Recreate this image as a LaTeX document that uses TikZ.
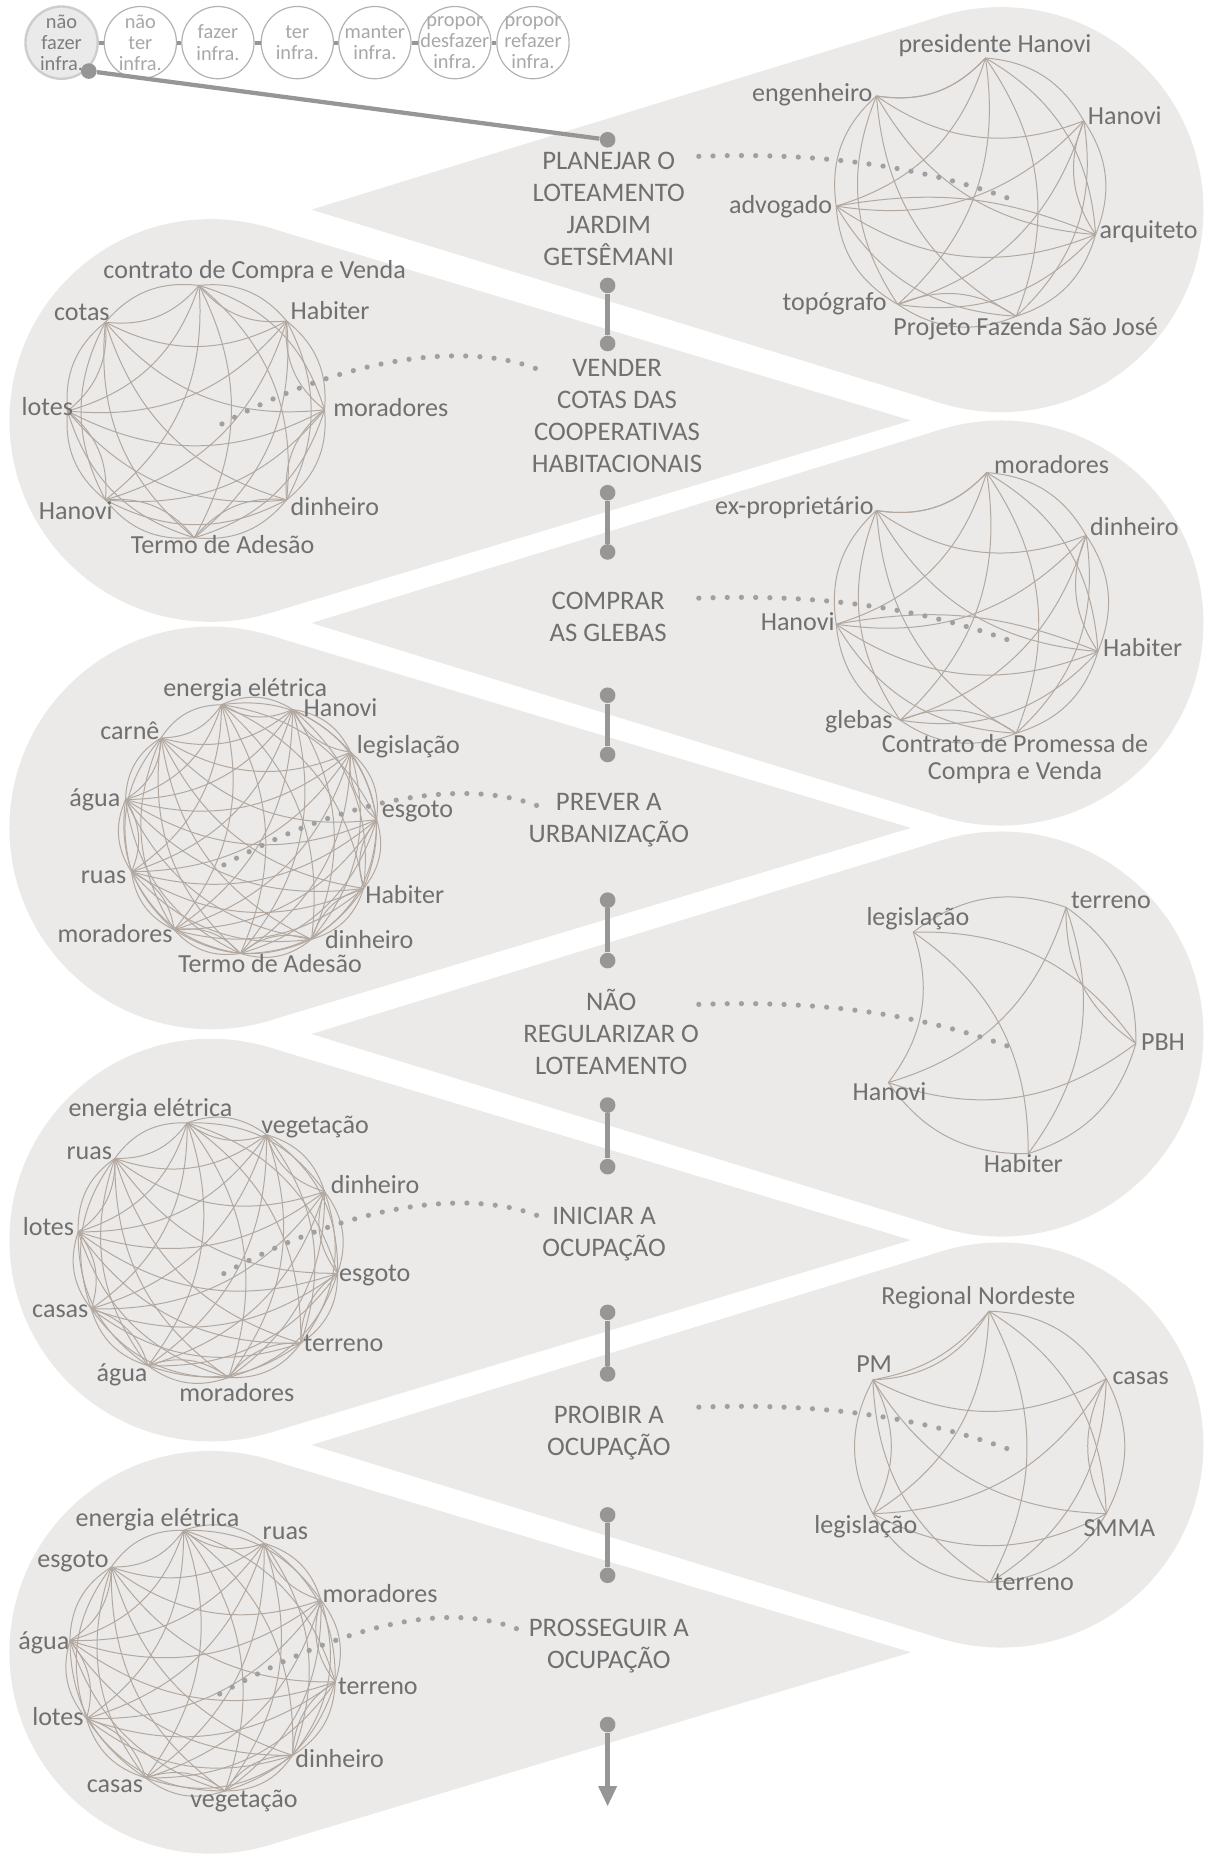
\documentclass[tikz,border=0pt]{standalone}
\usepackage{fontspec}
\setmainfont{Carlito}
\usetikzlibrary{calc,arrows.meta}
\definecolor{conefill}{RGB}{235,234,233}
\definecolor{txt}{RGB}{112,112,112}
\definecolor{edgec}{RGB}{178,168,160}
\definecolor{dotc}{RGB}{160,160,160}
\definecolor{connc}{RGB}{150,150,150}
\definecolor{circtxt}{RGB}{168,168,168}
\definecolor{circline}{RGB}{178,178,178}
\newcommand\RightCone[4]{%
  \pgfmathsetmacro\cph{acos(#3/(#1-#4))}%
  \fill[conefill] (#1,#2) circle[radius=#3];
  \fill[conefill] (#4,#2) -- ($(#1,#2)+(180+\cph:#3)$) -- ($(#1,#2)+(180-\cph:#3)$) -- cycle;}
\newcommand\LeftCone[4]{%
  \pgfmathsetmacro\cph{acos(#3/(#4-#1))}%
  \fill[conefill] (#1,#2) circle[radius=#3];
  \fill[conefill] (#4,#2) -- ($(#1,#2)+(\cph:#3)$) -- ($(#1,#2)+(-\cph:#3)$) -- cycle;}
\newcommand\NetEdges[2]{%
  \foreach \i in {1,...,#2}{\foreach \j in {\i,...,#2}{\ifnum\i<\j\relax
    \draw[netedge] (#1-\i) to[bend left=28] (#1-\j);\fi}}}
\newcommand\NetRing[2]{%
  \foreach \i in {2,...,#2}{%
    \draw[netedge] (#1-\the\numexpr\i-1\relax) to[bend right=28] (#1-\i);}
  \draw[netedge] (#1-1) to[bend right=28] (#1-#2);}
\begin{document}
\begin{tikzpicture}[x=0.5pt,y=-0.5pt,
  netedge/.style={draw=edgec, line width=0.42pt},
  netlbl/.style={text=txt, font=\fontsize{11}{13}\selectfont, inner sep=0pt, text height=8pt, text depth=2pt},
  netlbltwo/.style={text=txt, font=\fontsize{11}{11.6}\selectfont, inner sep=0pt, align=center},
  stagelbl/.style={text=txt, font=\fontsize{11.3}{13.5}\selectfont, inner sep=0pt, align=center},
  stagedot/.style={circle, fill=connc, minimum size=6.6pt, inner sep=0pt},
  stageline/.style={draw=connc, line width=1.8pt},
  dotline/.style={draw=dotc, line width=2.2pt, line cap=round, dash pattern=on 0pt off 6pt},
  topc/.style={circle, draw=circline, line width=0.5pt, fill=white, minimum size=30.5pt, inner sep=0pt},
  topfirst/.style={draw={rgb,255:red,205;green,205;blue,205}, line width=1pt, fill={rgb,255:red,234;green,234;blue,234}},
  toptxt/.style={text=circtxt, font=\fontsize{8.6}{8.9}\selectfont, align=center, inner sep=0pt},
  smallconn/.style={draw=connc, line width=1.6pt}]
\fill[white] (0,0) rectangle (1024,1567);
\useasboundingbox (0,0) rectangle (1024,1567);
% ---------- cones ----------
\RightCone{845}{177}{171}{263}
\LeftCone{178}{355}{170}{769}
\RightCone{845}{526}{171}{263}
\LeftCone{178}{699}{170}{769}
\RightCone{845}{873}{171}{263}
\LeftCone{178}{1047}{170}{769}
\RightCone{845}{1220}{171}{263}
\LeftCone{178}{1395}{170}{769}
% ---------- network 1 ----------
\coordinate (n1-1) at (832,49);
\coordinate (n1-2) at (915,102);
\coordinate (n1-3) at (925,198);
\coordinate (n1-4) at (858,267);
\coordinate (n1-5) at (758,257);
\coordinate (n1-6) at (706,174);
\coordinate (n1-7) at (740,81);
\NetEdges{n1}{7}
\draw[netedge] (n1-7) to[bend right=28] (n1-1);
\draw[netedge] (n1-2) to[bend right=28] (n1-3);
\draw[netedge] (n1-4) to[bend right=28] (n1-5);
\draw[netedge] (n1-3) to[bend right=16] (n1-6);
% ---------- network 2 ----------
\coordinate (n2-1) at (168,241);
\coordinate (n2-2) at (242,271);
\coordinate (n2-3) at (274,346);
\coordinate (n2-4) at (242,422);
\coordinate (n2-5) at (164,454);
\coordinate (n2-6) at (89,422);
\coordinate (n2-7) at (57,347);
\coordinate (n2-8) at (89,272);
\NetEdges{n2}{8}
\NetRing{n2}{8}
% ---------- network 3 ----------
\coordinate (n3-1) at (833,399);
\coordinate (n3-2) at (917,452);
\coordinate (n3-3) at (927,550);
\coordinate (n3-4) at (858,619);
\coordinate (n3-5) at (760,608);
\coordinate (n3-6) at (706,527);
\coordinate (n3-7) at (740,431);
\NetEdges{n3}{7}
\draw[netedge] (n3-7) to[bend right=28] (n3-1);
\draw[netedge] (n3-2) to[bend right=28] (n3-3);
\draw[netedge] (n3-4) to[bend right=28] (n3-5);
\draw[netedge] (n3-3) to[bend right=16] (n3-6);
% ---------- network 4 ----------
\coordinate (n4-1) at (187,595);
\coordinate (n4-2) at (247,599);
\coordinate (n4-3) at (296,635);
\coordinate (n4-4) at (318,692);
\coordinate (n4-5) at (307,750);
\coordinate (n4-6) at (263,793);
\coordinate (n4-7) at (203,805);
\coordinate (n4-8) at (147,785);
\coordinate (n4-9) at (111,736);
\coordinate (n4-10) at (106,675);
\coordinate (n4-11) at (136,623);
\NetEdges{n4}{11}
\NetRing{n4}{11}
% ---------- network 5 ----------
\coordinate (n5-1) at (771,787);
\coordinate (n5-2) at (900,766);
\coordinate (n5-3) at (959,881);
\coordinate (n5-4) at (868,974);
\coordinate (n5-5) at (750,914);
\NetEdges{n5}{5}
\draw[netedge] (n5-2) to[bend right=28] (n5-3);
% ---------- network 6 ----------
\coordinate (n6-1) at (158,948);
\coordinate (n6-2) at (225,958);
\coordinate (n6-3) at (274,1006);
\coordinate (n6-4) at (285,1075);
\coordinate (n6-5) at (254,1134);
\coordinate (n6-6) at (193,1163);
\coordinate (n6-7) at (125,1153);
\coordinate (n6-8) at (77,1105);
\coordinate (n6-9) at (66,1040);
\coordinate (n6-10) at (97,978);
\NetEdges{n6}{10}
\NetRing{n6}{10}
% ---------- network 7 ----------
\coordinate (n7-1) at (835,1107);
\coordinate (n7-2) at (934,1164);
\coordinate (n7-3) at (934,1278);
\coordinate (n7-4) at (836,1336);
\coordinate (n7-5) at (737,1278);
\coordinate (n7-6) at (737,1165);
\NetEdges{n7}{6}
\draw[netedge] (n7-5) to[bend right=28] (n7-6);
\draw[netedge] (n7-2) to[bend right=28] (n7-3);
\draw[netedge] (n7-6) to[bend right=20] (n7-1);
% ---------- network 8 ----------
\coordinate (n8-1) at (155,1292);
\coordinate (n8-2) at (223,1303);
\coordinate (n8-3) at (271,1351);
\coordinate (n8-4) at (283,1420);
\coordinate (n8-5) at (247,1482);
\coordinate (n8-6) at (190,1512);
\coordinate (n8-7) at (123,1501);
\coordinate (n8-8) at (73,1451);
\coordinate (n8-9) at (59,1385);
\coordinate (n8-10) at (94,1323);
\NetEdges{n8}{10}
\NetRing{n8}{10}
% ---------- dotted links ----------
\coordinate (ds1) at (590,132); \coordinate (de1) at (853,168);
\coordinate (ds3) at (590,505); \coordinate (de3) at (853,541);
\coordinate (ds5) at (590,848); \coordinate (de5) at (853,884);
\coordinate (ds7) at (590,1188); \coordinate (de7) at (853,1224);
\foreach \k in {1,3,5,7}{\draw[dotline] (ds\k) .. controls +(110,-4) and +(-72,-26) .. (de\k);}
\coordinate (ds2) at (452,311); \coordinate (de2) at (180,362);
\coordinate (ds4) at (453,680); \coordinate (de4) at (184,733);
\coordinate (ds6) at (453,1026); \coordinate (de6) at (184,1078);
\coordinate (ds8) at (436,1375); \coordinate (de8) at (184,1431);
\foreach \k in {2,4,6,8}{\draw[dotline] (ds\k) .. controls +(-52,-20) and +(120,-67) .. (de\k);}
% ---------- network labels ----------
\node[netlbl] (l1-1) at (840,38) {presidente Hanovi};
\node[netlbl,anchor=west] (l1-2) at (918,99) {Hanovi};
\node[netlbl,anchor=west] (l1-3) at (928,195) {arquiteto};
\node[netlbl] (l1-4) at (866,277) {Projeto Fazenda São José};
\node[netlbl,anchor=east] (l1-5) at (749,256) {topógrafo};
\node[netlbl,anchor=east] (l1-6) at (703,174) {advogado};
\node[netlbl,anchor=east] (l1-7) at (737,80) {engenheiro};
\node[netlbl] (l2-1) at (215,229) {contrato de Compra e Venda};
\node[netlbl,anchor=west] (l2-2) at (245,264) {Habiter};
\node[netlbl,anchor=west] (l2-3) at (281,346) {moradores};
\node[netlbl,anchor=west] (l2-4) at (245,429) {dinheiro};
\node[netlbl] (l2-5) at (188,461) {Termo de Adesão};
\node[netlbl] (l2-6) at (64,433) {Hanovi};
\node[netlbl,anchor=east] (l2-7) at (62,345) {lotes};
\node[netlbl,anchor=east] (l2-8) at (93,265) {cotas};
\node[netlbl,anchor=west] (l3-1) at (839,394) {moradores};
\node[netlbl,anchor=west] (l3-2) at (920,446) {dinheiro};
\node[netlbl,anchor=west] (l3-3) at (931,548) {Habiter};
\node[netlbltwo] (l3-4) at (857,641) {Contrato de Promessa de\\Compra e Venda};
\node[netlbl,anchor=east] (l3-5) at (754,609) {glebas};
\node[netlbl,anchor=east] (l3-6) at (705,526) {Hanovi};
\node[netlbl,anchor=east] (l3-7) at (738,428) {ex-proprietário};
\node[netlbl] (l4-1) at (207,582) {energia elétrica};
\node[netlbl,anchor=west] (l4-2) at (256,599) {Hanovi};
\node[netlbl,anchor=west] (l4-3) at (301,630) {legislação};
\node[netlbl,anchor=west] (l4-4) at (322,684) {esgoto};
\node[netlbl,anchor=west] (l4-5) at (308,757) {Habiter};
\node[netlbl,anchor=west] (l4-6) at (274,795) {dinheiro};
\node[netlbl] (l4-7) at (228,815) {Termo de Adesão};
\node[netlbl,anchor=east] (l4-8) at (146,790) {moradores};
\node[netlbl,anchor=east] (l4-9) at (107,740) {ruas};
\node[netlbl,anchor=east] (l4-10) at (102,675) {água};
\node[netlbl,anchor=east] (l4-11) at (135,618) {carnê};
\node[netlbl] (l5-1) at (775,775) {legislação};
\node[netlbl,anchor=west] (l5-2) at (904,761) {terreno};
\node[netlbl,anchor=west] (l5-3) at (963,881) {PBH};
\node[netlbl] (l5-4) at (864,984) {Habiter};
\node[netlbl] (l5-5) at (751,923) {Hanovi};
\node[netlbl] (l6-1) at (127,937) {energia elétrica};
\node[netlbl] (l6-2) at (266,951) {vegetação};
\node[netlbl,anchor=west] (l6-3) at (279,1002) {dinheiro};
\node[netlbl,anchor=west] (l6-4) at (286,1076) {esgoto};
\node[netlbl,anchor=west] (l6-5) at (256,1135) {terreno};
\node[netlbl] (l6-6) at (200,1177) {moradores};
\node[netlbl] (l6-7) at (103,1160) {água};
\node[netlbl,anchor=east] (l6-8) at (75,1106) {casas};
\node[netlbl,anchor=east] (l6-9) at (63,1037) {lotes};
\node[netlbl,anchor=east] (l6-10) at (95,973) {ruas};
\node[netlbl] (l7-1) at (826,1095) {Regional Nordeste};
\node[netlbl,anchor=west] (l7-2) at (939,1163) {casas};
\node[netlbl] (l7-3) at (945,1291) {SMMA};
\node[netlbl,anchor=west] (l7-4) at (839,1337) {terreno};
\node[netlbl] (l7-5) at (731,1289) {legislação};
\node[netlbl] (l7-6) at (738,1153) {PM};
\node[netlbl] (l8-1) at (133,1283) {energia elétrica};
\node[netlbl] (l8-2) at (241,1294) {ruas};
\node[netlbl,anchor=west] (l8-3) at (272,1347) {moradores};
\node[netlbl,anchor=west] (l8-4) at (285,1425) {terreno};
\node[netlbl,anchor=west] (l8-5) at (249,1486) {dinheiro};
\node[netlbl] (l8-6) at (206,1520) {vegetação};
\node[netlbl] (l8-7) at (97,1507) {casas};
\node[netlbl,anchor=east] (l8-8) at (71,1451) {lotes};
\node[netlbl,anchor=east] (l8-9) at (59,1387) {água};
\node[netlbl,anchor=east] (l8-10) at (92,1317) {esgoto};
% ---------- top row ----------
\node[topc,topfirst] (t1) at (52,36) {};
\node[topc] (t2) at (118.5,36) {};
\node[topc] (t3) at (184,36) {};
\node[topc] (t4) at (251,36) {};
\node[topc] (t5) at (316.5,36) {};
\node[topc] (t6) at (384,36) {};
\node[topc] (t7) at (450,36) {};
\foreach \a/\b in {t1/t2,t2/t3,t3/t4,t4/t5,t5/t6,t6/t7}{\draw[smallconn] (\a.east) -- (\b.west);}
\node[toptxt,text={rgb,255:red,125;green,125;blue,125}] (tx1) at (t1) {não\\fazer\\infra.};
\node[toptxt] (tx2) at (t2) {não\\ter\\infra.};
\node[toptxt] (tx3) at (t3) {fazer\\infra.};
\node[toptxt] (tx4) at (t4) {ter\\infra.};
\node[toptxt] (tx5) at (t5) {manter\\infra.};
\node[toptxt] (tx6) at (t6) {propor\\desfazer\\infra.};
\node[toptxt] (tx7) at (t7) {propor\\refazer\\infra.};
% ---------- stages ----------
\node[stagelbl] (s1) at (514,176.5) {PLANEJAR O\\LOTEAMENTO\\JARDIM\\GETSÊMANI};
\node[stagelbl] (s2) at (521,351.5) {VENDER\\COTAS DAS\\COOPERATIVAS\\HABITACIONAIS};
\node[stagelbl] (s3) at (513.5,520.5) {COMPRAR\\AS GLEBAS};
\node[stagelbl] (s4) at (514,692.5) {PREVER A\\URBANIZAÇÃO};
\node[stagelbl] (s5) at (516,871) {NÃO\\REGULARIZAR O\\LOTEAMENTO};
\node[stagelbl] (s6) at (510,1041.5) {INICIAR A\\OCUPAÇÃO};
\node[stagelbl] (s7) at (514,1209.5) {PROIBIR A\\OCUPAÇÃO};
\node[stagelbl] (s8) at (514,1389.5) {PROSSEGUIR A\\OCUPAÇÃO};
\node[stagedot] (d0) at (75,60) {};
\node[stagedot] (d1a) at (513,118) {};
\node[stagedot] (d1b) at (513,241) {};
\node[stagedot] (d2a) at (513,290) {};
\node[stagedot] (d2b) at (513,416) {};
\node[stagedot] (d3a) at (513,466) {};
\node[stagedot] (d3b) at (513,587) {};
\node[stagedot] (d4a) at (513,637) {};
\node[stagedot] (d4b) at (513,760) {};
\node[stagedot] (d5a) at (513,811) {};
\node[stagedot] (d5b) at (513,933) {};
\node[stagedot] (d6a) at (513,985) {};
\node[stagedot] (d6b) at (513,1108) {};
\node[stagedot] (d7a) at (513,1160) {};
\node[stagedot] (d7b) at (513,1279) {};
\node[stagedot] (d8a) at (513,1330) {};
\node[stagedot] (d8b) at (513,1456) {};
\coordinate (arrowtip) at (513,1525);
\draw[stageline] (d0) -- (d1a);
\draw[stageline] (d1b) -- (d2a);
\draw[stageline] (d2b) -- (d3a);
\draw[stageline] (d3b) -- (d4a);
\draw[stageline] (d4b) -- (d5a);
\draw[stageline] (d5b) -- (d6a);
\draw[stageline] (d6b) -- (d7a);
\draw[stageline] (d7b) -- (d8a);
\draw[stageline,-{Triangle[length=8.5pt,width=7.5pt]}] (d8b) -- (arrowtip);
\end{tikzpicture}
\end{document}
